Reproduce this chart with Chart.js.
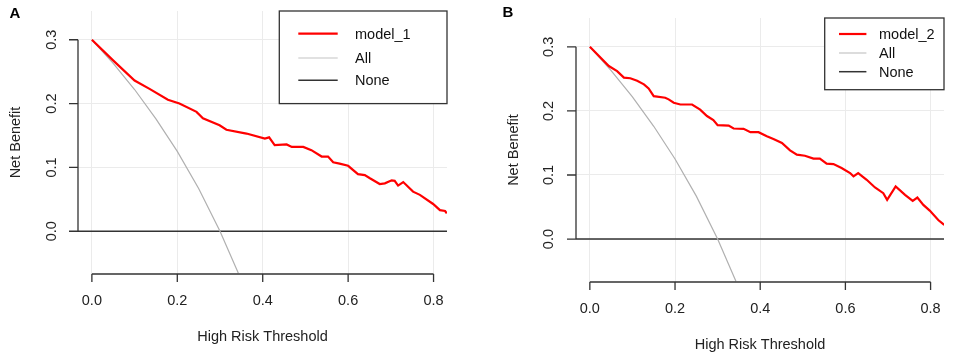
<!DOCTYPE html>
<html>
<head>
<meta charset="utf-8">
<script src="https://cdn.jsdelivr.net/npm/chart.js@4/dist/chart.umd.min.js"></script>
<style>
  body { margin: 0; background: #fff; }
  canvas { position: absolute; top: 0; }
  #chartA { left: 0; }
  #chartB { left: 480px; }
</style>
</head>
<body>
<canvas id="chartA" width="478" height="363"></canvas>
<canvas id="chartB" width="477" height="363"></canvas>
<script>
// panel A, model_1 net benefit curve
const thresholdA = [0, 0.049, 0.1, 0.135, 0.178, 0.205, 0.245, 0.26, 0.299, 0.315, 0.362, 0.405, 0.415,
  0.428, 0.456, 0.468, 0.495, 0.514, 0.538, 0.553, 0.565, 0.58, 0.6, 0.623, 0.639, 0.651, 0.674, 0.686,
  0.702, 0.709, 0.717, 0.729, 0.752, 0.768, 0.799, 0.815, 0.827, 0.831];
const model1 = [0.3, 0.268, 0.236, 0.223, 0.206, 0.2, 0.187, 0.177, 0.166, 0.159, 0.153, 0.145, 0.147,
  0.135, 0.136, 0.132, 0.132, 0.127, 0.117, 0.117, 0.108, 0.106, 0.1025, 0.0895, 0.088, 0.083, 0.074, 0.075,
  0.0797, 0.079, 0.0715, 0.077, 0.062, 0.057, 0.0427, 0.033, 0.0317, 0.028];

// panel B, model_2 net benefit curve
const thresholdB = [0, 0.0445, 0.064, 0.08, 0.095, 0.111, 0.127, 0.138, 0.15, 0.177, 0.185, 0.197, 0.2125,
  0.24, 0.259, 0.275, 0.29, 0.3, 0.326, 0.3375, 0.361, 0.377, 0.396, 0.4156, 0.431, 0.451, 0.47, 0.486,
  0.505, 0.525, 0.54, 0.556, 0.572, 0.591, 0.611, 0.619, 0.63, 0.65, 0.6695, 0.689, 0.698, 0.718, 0.74,
  0.758, 0.769, 0.783, 0.798, 0.818, 0.832];
const model2 = [0.3, 0.27, 0.262, 0.252, 0.251, 0.247, 0.2415, 0.235, 0.223, 0.2206, 0.218, 0.2128, 0.21,
  0.21, 0.202, 0.192, 0.1856, 0.1777, 0.177, 0.1725, 0.172, 0.1668, 0.1668, 0.1605, 0.156, 0.15, 0.1385, 0.1317,
  0.13, 0.1255, 0.1255, 0.1176, 0.117, 0.1108, 0.103, 0.0978, 0.103, 0.0925, 0.0805, 0.0716, 0.0612, 0.082, 0.069,
  0.0596, 0.0648, 0.0533, 0.0444, 0.0298, 0.022];

// treat-all and treat-none reference lines (same in both panels)
const allThreshold = [0, 0.05, 0.1, 0.15, 0.2, 0.25, 0.3, 0.343];
const allBenefit = [0.3, 0.263, 0.222, 0.176, 0.125, 0.067, 0.0, -0.066];
const noneThreshold = [-0.05, 0.85];
const noneBenefit = [0, 0];

const xTicks = [0, 0.2, 0.4, 0.6, 0.8];
const yTicks = [0, 0.1, 0.2, 0.3];
const xTitle = "High Risk Threshold";
const yTitle = "Net Benefit";

const FONT = "'Liberation Sans', Arial, sans-serif";

function toPoints(xs, ys) {
  return xs.map((x, i) => ({ x: x, y: ys[i] }));
}

function rStylePlugin(cfg) {
  return {
    id: "rStyle" + cfg.letter,
    afterDraw(chart) {
      const ctx = chart.ctx;
      const xs = chart.scales.x;
      const ys = chart.scales.y;
      const area = chart.chartArea;
      ctx.save();
      ctx.strokeStyle = "#333";
      ctx.fillStyle = "#222";
      ctx.lineWidth = 1.3;

      // x axis, R style: line only between first and last tick
      const xb = area.bottom;
      ctx.beginPath();
      ctx.moveTo(xs.getPixelForValue(xTicks[0]), xb);
      ctx.lineTo(xs.getPixelForValue(xTicks[xTicks.length - 1]), xb);
      xTicks.forEach((t) => {
        const px = xs.getPixelForValue(t);
        ctx.moveTo(px, xb);
        ctx.lineTo(px, xb + 8);
      });
      ctx.stroke();
      ctx.font = "14.5px " + FONT;
      ctx.textAlign = "center";
      ctx.textBaseline = "middle";
      xTicks.forEach((t) => {
        ctx.fillText(t.toFixed(1), xs.getPixelForValue(t), xb + cfg.xLabelOff);
      });
      ctx.fillText(xTitle, (area.left + area.right) / 2, xb + cfg.xTitleOff);

      // y axis
      const yl = area.left;
      ctx.beginPath();
      ctx.moveTo(yl, ys.getPixelForValue(yTicks[0]));
      ctx.lineTo(yl, ys.getPixelForValue(yTicks[yTicks.length - 1]));
      yTicks.forEach((t) => {
        const py = ys.getPixelForValue(t);
        ctx.moveTo(yl, py);
        ctx.lineTo(yl - 9, py);
      });
      ctx.stroke();
      yTicks.forEach((t) => {
        ctx.save();
        ctx.translate(yl - cfg.yLabelOff, ys.getPixelForValue(t));
        ctx.rotate(-Math.PI / 2);
        ctx.fillText(t.toFixed(1), 0, 0);
        ctx.restore();
      });
      ctx.save();
      ctx.translate(yl - 62, (area.top + area.bottom) / 2);
      ctx.rotate(-Math.PI / 2);
      ctx.fillText(yTitle, 0, 0);
      ctx.restore();

      // panel letter
      ctx.fillStyle = "#000";
      ctx.font = "bold 15px " + FONT;
      ctx.fillText(cfg.letter, cfg.letterX, cfg.letterY);

      // legend box, top right of the plot region
      const lg = cfg.legend;
      const bx = area.right - lg.w;
      const by = area.top;
      ctx.fillStyle = "#fff";
      ctx.fillRect(bx, by, lg.w, lg.h);
      ctx.strokeStyle = "#333";
      ctx.lineWidth = 1.3;
      ctx.strokeRect(bx, by, lg.w, lg.h);
      ctx.font = "14.5px " + FONT;
      ctx.textAlign = "left";
      chart.data.datasets.forEach((ds, i) => {
        const ry = by + lg.rows[i];
        ctx.strokeStyle = ds.legendColor || ds.borderColor;
        ctx.lineWidth = ds.borderWidth;
        ctx.beginPath();
        ctx.moveTo(bx + lg.line0, ry);
        ctx.lineTo(bx + lg.line1, ry);
        ctx.stroke();
        ctx.fillStyle = "#111";
        ctx.fillText(ds.label, bx + lg.text, ry + 1);
      });
      ctx.restore();
    }
  };
}

function makePanel(canvasId, cfg) {
  const ctx = document.getElementById(canvasId).getContext("2d");
  return new Chart(ctx, {
    type: "line",
    data: {
      datasets: [
        {
          label: cfg.modelName,
          data: toPoints(cfg.thresholds, cfg.benefit),
          borderColor: "#ff0000",
          borderWidth: 2.2,
          pointRadius: 0,
          tension: 0
        },
        {
          label: "All",
          data: toPoints(allThreshold, allBenefit),
          borderColor: "#b0b0b0",
          legendColor: "#c4c4c4",
          borderWidth: 1.2,
          pointRadius: 0,
          tension: 0
        },
        {
          label: "None",
          data: toPoints(noneThreshold, noneBenefit),
          borderColor: "#333333",
          borderWidth: 1.5,
          pointRadius: 0,
          tension: 0
        }
      ]
    },
    options: {
      responsive: false,
      animation: false,
      devicePixelRatio: 1,
      layout: { padding: { left: 0, top: cfg.top, right: cfg.right, bottom: 0 } },
      plugins: { legend: { display: false }, tooltip: { enabled: false } },
      scales: {
        x: {
          type: "linear",
          min: -0.0325,
          max: 0.8315,
          afterBuildTicks: (scale) => {
            scale.ticks = xTicks.map((v) => ({ value: v }));
          },
          afterFit: (scale) => {
            scale.height = cfg.xHeight;
          },
          grid: { color: "#ebebeb", lineWidth: 1, drawTicks: false },
          border: { display: false },
          ticks: { display: false }
        },
        y: {
          min: -0.067,
          max: 0.345,
          afterBuildTicks: (scale) => {
            scale.ticks = yTicks.map((v) => ({ value: v }));
          },
          afterFit: (scale) => {
            scale.width = cfg.yWidth;
          },
          grid: { color: "#ebebeb", lineWidth: 1, drawTicks: false },
          border: { display: false },
          ticks: { display: false }
        }
      }
    },
    plugins: [rStylePlugin(cfg)]
  });
}

makePanel("chartA", {
  letter: "A", letterX: 15, letterY: 13.5,
  modelName: "model_1", thresholds: thresholdA, benefit: model1,
  top: 11, right: 31, yWidth: 78, xHeight: 89,
  xLabelOff: 27, xTitleOff: 63, yLabelOff: 26,
  legend: { w: 167.7, h: 92.6, line0: 19, line1: 58.4, text: 75.7, rows: [22.6, 47, 69.3] }
});

makePanel("chartB", {
  letter: "B", letterX: 28, letterY: 13,
  modelName: "model_2", thresholds: thresholdB, benefit: model2,
  top: 18, right: 13, yWidth: 96, xHeight: 81,
  xLabelOff: 26.5, xTitleOff: 63.3, yLabelOff: 27.5,
  legend: { w: 119.3, h: 71.7, line0: 14.3, line1: 41.7, text: 54.3, rows: [16, 35, 53.7] }
});
</script>
</body>
</html>
